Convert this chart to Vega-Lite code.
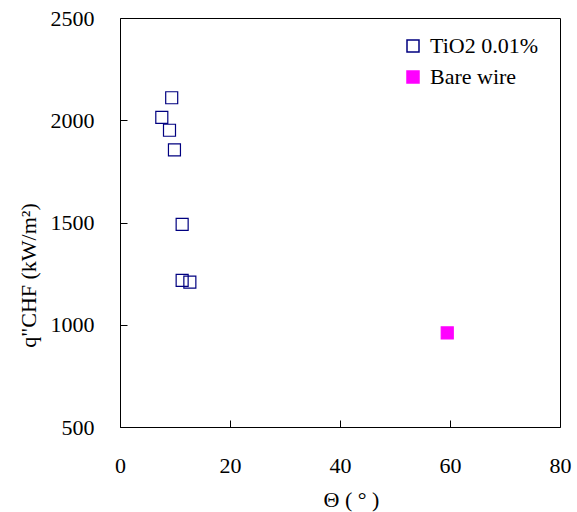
{
  "$schema": "https://vega.github.io/schema/vega-lite/v6.json",
  "autosize": "none",
  "padding": {"left": 120, "top": 18, "right": 17, "bottom": 85},
  "width": 440,
  "height": 409,
  "background": "white",
  "config": {
    "font": "Liberation Serif",
    "view": {"stroke": "black", "strokeWidth": 1},
    "axis": {
      "labelFont": "Liberation Serif",
      "titleFont": "Liberation Serif",
      "labelFontSize": 22,
      "titleFontSize": 22,
      "titleFontWeight": "normal",
      "labelColor": "black",
      "titleColor": "black",
      "domainColor": "black",
      "tickColor": "black",
      "tickWidth": 1,
      "grid": false
    }
  },
  "data": {
    "values": [
      {"theta": 9.4, "q": 2110, "series": "TiO2 0.01%"},
      {"theta": 7.6, "q": 2014, "series": "TiO2 0.01%"},
      {"theta": 9.0, "q": 1951, "series": "TiO2 0.01%"},
      {"theta": 9.9, "q": 1855, "series": "TiO2 0.01%"},
      {"theta": 11.3, "q": 1491, "series": "TiO2 0.01%"},
      {"theta": 11.3, "q": 1217, "series": "TiO2 0.01%"},
      {"theta": 12.7, "q": 1208, "series": "TiO2 0.01%"},
      {"theta": 59.5, "q": 960, "series": "Bare wire"}
    ]
  },
  "resolve": {"axis": {"x": "independent", "y": "independent"}},
  "layer": [
    {
      "mark": {"type": "point", "shape": "square", "size": 144, "opacity": 1, "strokeWidth": 1.2},
      "encoding": {
        "x": {
          "field": "theta", "type": "quantitative",
          "scale": {"domain": [0, 80], "nice": false},
          "axis": {"orient": "bottom", "values": [0, 20, 40, 60, 80], "format": "d", "labelFlush": false, "ticks": false, "labelPadding": 28,
                   "title": "Θ ( ° )", "titlePadding": 13, "titleX": 231}
        },
        "y": {
          "field": "q", "type": "quantitative",
          "scale": {"domain": [500, 2500], "nice": false, "zero": false},
          "axis": {"orient": "left", "values": [500, 1000, 1500, 2000, 2500], "format": "d", "labelFlush": false, "ticks": false, "labelPadding": 26,
                   "title": "q\"CHF  (kW/m²)", "titlePadding": 14, "titleY": 257, "titleX": -80}
        },
        "stroke": {
          "field": "series", "type": "nominal",
          "scale": {"domain": ["TiO2 0.01%", "Bare wire"], "range": ["#000080", "#FF00FF"]},
          "legend": {
            "title": null, "orient": "none", "legendX": 282, "legendY": 17,
            "labelFont": "Liberation Serif", "labelFontSize": 22, "labelColor": "black",
            "symbolSize": 144, "symbolType": "square", "rowPadding": 9, "labelOffset": 6
          }
        },
        "fill": {
          "field": "series", "type": "nominal",
          "scale": {"domain": ["TiO2 0.01%", "Bare wire"], "range": ["transparent", "#FF00FF"]},
          "legend": {
            "title": null, "orient": "none", "legendX": 282, "legendY": 17,
            "labelFont": "Liberation Serif", "labelFontSize": 22, "labelColor": "black",
            "symbolSize": 144, "symbolType": "square", "rowPadding": 9, "labelOffset": 6
          }
        }
      }
    },
    {
      "mark": {"type": "point", "opacity": 0},
      "encoding": {
        "x": {
          "field": "theta", "type": "quantitative",
          "axis": {"orient": "bottom", "values": [20, 40, 60], "labels": false, "domain": false, "title": null, "ticks": true, "tickColor": "black", "tickWidth": 1, "tickSize": 7, "offset": -7}
        },
        "y": {
          "field": "q", "type": "quantitative",
          "axis": {"orient": "left", "values": [1000, 1500, 2000], "labels": false, "domain": false, "title": null, "ticks": true, "tickColor": "black", "tickWidth": 1, "tickSize": 7, "offset": -7}
        }
      }
    }
  ]
}
